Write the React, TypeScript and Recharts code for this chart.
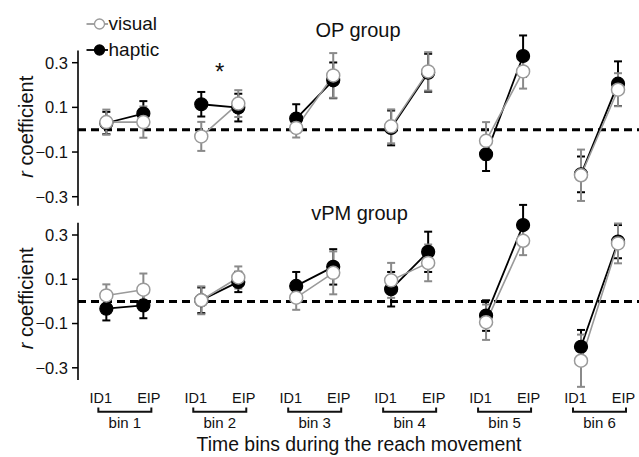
import React from 'react';
import { LineChart, Line, XAxis, YAxis, ErrorBar, ReferenceLine, ReferenceDot, Legend } from 'recharts';

// ---------- data ----------
const bins = ['bin 1', 'bin 2', 'bin 3', 'bin 4', 'bin 5', 'bin 6'];
const phases = ['ID1', 'EIP'];
const yTicks = [-0.3, -0.1, 0.1, 0.3];

// OP group (ID1, EIP per bin)
const opVisual = [0.034, 0.034, -0.03, 0.117, 0.008, 0.243, 0.015, 0.261, -0.05, 0.261, -0.204, 0.179];
const opVisualErr = [0.056, 0.07, 0.065, 0.06, 0.043, 0.1, 0.076, 0.086, 0.084, 0.077, 0.115, 0.074];
const opHaptic = [0.03, 0.072, 0.114, 0.099, 0.05, 0.221, 0.008, 0.255, -0.11, 0.33, -0.2, 0.206];
const opHapticErr = [0.05, 0.056, 0.055, 0.062, 0.064, 0.08, 0.078, 0.085, 0.075, 0.092, 0.08, 0.1];

// vPM group
const vpmVisual = [0.027, 0.053, 0.005, 0.108, 0.017, 0.129, 0.095, 0.174, -0.094, 0.274, -0.268, 0.262];
const vpmVisualErr = [0.05, 0.073, 0.063, 0.05, 0.055, 0.097, 0.079, 0.083, 0.08, 0.065, 0.118, 0.09];
const vpmHaptic = [-0.033, -0.018, 0.005, 0.088, 0.07, 0.156, 0.055, 0.224, -0.064, 0.345, -0.205, 0.27];
const vpmHapticErr = [0.053, 0.058, 0.058, 0.046, 0.063, 0.08, 0.078, 0.091, 0.069, 0.091, 0.076, 0.075];

const seriesOrder = ['visual', 'haptic'];
const significantBin = 2;
const significantY = 0.26;

// ---------- layout / style ----------
const FONT = '"Liberation Sans", Arial, sans-serif';
const PAIR_HALF = 0.195;
const X_MIN = 0.5065;
const X_MAX = 6.416;
const Y_DOMAIN: [number, number] = [-0.45, 0.45];
const OP_AXIS_RANGE = [-0.34, 0.355];
const VPM_AXIS_RANGE = [-0.355, 0.355];
const VIS_COLOR = '#9a9a9a';
const VIS_ERR = '#8a8a8a';

const Y_AXIS_W = 78;
const TOP_H = 250;
const TOP_MARGIN = { top: 29.2, right: 0, bottom: 19.8, left: 0 };
const BOT_TOP = 190;
const BOT_H = 267;
const BOT_MARGIN = { top: 11.8, right: 0, bottom: 0, left: 0 };
const X_AXIS_H = 56;

function buildRows(vis: number[], visErr: number[], hap: number[], hapErr: number[]) {
  const rows: any[] = [];
  bins.forEach((b, i) => {
    phases.forEach((p, j) => {
      const k = i * 2 + j;
      rows.push({
        x: i + 1 + (j === 0 ? -PAIR_HALF : PAIR_HALF),
        visual: vis[k],
        visualErr: visErr[k],
        haptic: hap[k],
        hapticErr: hapErr[k],
      });
    });
    if (i < bins.length - 1) {
      rows.push({ x: i + 1.5, visual: null, visualErr: null, haptic: null, hapticErr: null });
    }
  });
  return rows;
}

const opRows = buildRows(opVisual, opVisualErr, opHaptic, opHapticErr);
const vpmRows = buildRows(vpmVisual, vpmVisualErr, vpmHaptic, vpmHapticErr);

const fmt = (v: number) => (v < 0 ? `\u2212${Math.abs(v)}` : `${v}`);

// maps a value to page y for a panel, from the same domain/margins the chart uses
function valueToY(v: number, top: number, plotH: number) {
  return top + ((Y_DOMAIN[1] - v) / (Y_DOMAIN[1] - Y_DOMAIN[0])) * plotH;
}

const YLabel = (props: any) => {
  const vb = props.viewBox || {};
  const cy = vb.y + vb.height / 2 - 3;
  const x = 33;
  return (
    <text x={x} y={cy} transform={`rotate(-90 ${x} ${cy})`} textAnchor="middle" fontSize={20} fontFamily={FONT} fill="#111">
      <tspan fontStyle="italic">r</tspan> coefficient
    </text>
  );
};

const BinTick = (props: any) => {
  const { x, y, payload } = props;
  const i = Math.round(payload.value) - 1;
  return (
    <g fontFamily={FONT} fill="#111">
      <text x={x - 24} y={y + 2.3} textAnchor="middle" fontSize={14.5}>{phases[0]}</text>
      <text x={x + 24} y={y + 2.3} textAnchor="middle" fontSize={14.5}>{phases[1]}</text>
      <path d={`M${x - 26.5},${y + 6.5} L${x - 26.5},${y + 10.7} L${x + 26.5},${y + 10.7} L${x + 26.5},${y + 6.5}`} fill="none" stroke="#111" strokeWidth={2} />
      <text x={x} y={y + 27.3} textAnchor="middle" fontSize={15}>{bins[i]}</text>
    </g>
  );
};

const LegendContent = (props: any) => {
  const payload = (props.payload || [])
    .filter((e: any) => seriesOrder.includes(e.value))
    .sort((a: any, b: any) => seriesOrder.indexOf(a.value) - seriesOrder.indexOf(b.value));
  return (
    <svg width={140} height={56} style={{ display: 'block', overflow: 'visible' }}>
      {payload.map((e: any, i: number) => {
        const cy = 14 + i * 26;
        const isVis = e.value === 'visual';
        return (
          <g key={e.value}>
            <line x1={6.5} x2={28} y1={cy} y2={cy} stroke={isVis ? VIS_COLOR : '#000'} strokeWidth={1.8} />
            <circle cx={19.5} cy={cy} r={5} fill={isVis ? '#fff' : '#000'} stroke={isVis ? VIS_COLOR : '#000'} strokeWidth={1.3} />
            <text x={28.5} y={cy + 5.5} fontSize={19} fontFamily={FONT} fill="#111">{e.value}</text>
          </g>
        );
      })}
    </svg>
  );
};

function renderSeries() {
  return [
    <ReferenceLine key="zero" y={0} stroke="#000" strokeWidth={3} strokeDasharray="8 5" />,
    <Line
      key="haptic"
      dataKey="haptic"
      name="haptic"
      stroke="#000"
      strokeWidth={1.8}
      isAnimationActive={false}
      dot={{ r: 6.5, fill: '#000', stroke: '#000', strokeWidth: 1.2 }}
      activeDot={false}
      legendType="circle"
    >
      <ErrorBar dataKey="hapticErr" width={4} strokeWidth={2} stroke="#000" direction="y" isAnimationActive={false} />
    </Line>,
    <Line
      key="visual"
      dataKey="visual"
      name="visual"
      stroke={VIS_COLOR}
      strokeWidth={1.6}
      isAnimationActive={false}
      dot={{ r: 6.5, fill: '#fff', stroke: VIS_COLOR, strokeWidth: 1.5 }}
      activeDot={false}
      legendType="circle"
    >
      <ErrorBar dataKey="visualErr" width={4} strokeWidth={2} stroke={VIS_ERR} direction="y" isAnimationActive={false} />
    </Line>,
  ];
}

function axes(withXAxis: boolean) {
  return [
    <XAxis
      key="x"
      type="number"
      dataKey="x"
      domain={[X_MIN, X_MAX]}
      ticks={[1, 2, 3, 4, 5, 6]}
      hide={!withXAxis}
      axisLine={false}
      tickLine={false}
      tickSize={0}
      tickMargin={0}
      height={withXAxis ? X_AXIS_H : 0}
      tick={<BinTick />}
      interval={0}
    />,
    <YAxis
      key="y"
      type="number"
      domain={Y_DOMAIN}
      ticks={yTicks}
      width={Y_AXIS_W}
      axisLine={false}
      tickLine={{ stroke: '#000', strokeWidth: 1.5 }}
      tickSize={6}
      tickMargin={4}
      tickFormatter={fmt}
      tick={{ fontSize: 16.5, fill: '#111', fontFamily: FONT }}
      label={<YLabel />}
    />,
  ];
}

export default function App() {
  const topPlotH = TOP_H - TOP_MARGIN.top - TOP_MARGIN.bottom;
  const botPlotH = BOT_H - BOT_MARGIN.top - BOT_MARGIN.bottom - X_AXIS_H;
  const topPlotTop = TOP_MARGIN.top;
  const botPlotTop = BOT_TOP + BOT_MARGIN.top;
  const axisX = TOP_MARGIN.left + Y_AXIS_W;
  return (
    <div style={{ position: 'absolute', left: 0, top: 0, width: 639, height: 457, background: '#fff', fontFamily: FONT }}>
      <div style={{ position: 'absolute', left: 0, top: 0 }}>
        <LineChart width={639} height={TOP_H} data={opRows} margin={TOP_MARGIN}>
          {axes(false)}
          {renderSeries()}
          <ReferenceDot
            x={significantBin}
            y={significantY}
            r={0}
            fill="none"
            stroke="none"
            ifOverflow="visible"
            label={{ value: '*', position: 'center', fontSize: 24, fill: '#111', fontFamily: FONT }}
          />
          <Legend
            content={<LegendContent />}
            layout="horizontal"
            verticalAlign="middle"
            align="center"
            wrapperStyle={{ left: 80, top: 10, width: 140, height: 56 }}
          />
        </LineChart>
      </div>
      <div style={{ position: 'absolute', left: 0, top: BOT_TOP }}>
        <LineChart width={639} height={BOT_H} data={vpmRows} margin={BOT_MARGIN}>
          {axes(true)}
          {renderSeries()}
        </LineChart>
      </div>
      <svg width={639} height={457} style={{ position: 'absolute', left: 0, top: 0, pointerEvents: 'none' }}>
        <line
          x1={axisX}
          x2={axisX}
          y1={valueToY(OP_AXIS_RANGE[1], topPlotTop, topPlotH)}
          y2={valueToY(OP_AXIS_RANGE[0], topPlotTop, topPlotH)}
          stroke="#000"
          strokeWidth={1.6}
        />
        <line
          x1={axisX}
          x2={axisX}
          y1={valueToY(VPM_AXIS_RANGE[1], botPlotTop, botPlotH)}
          y2={valueToY(VPM_AXIS_RANGE[0], botPlotTop, botPlotH)}
          stroke="#000"
          strokeWidth={1.6}
        />
        <text x={358} y={36.7} textAnchor="middle" fontSize={20} fontFamily={FONT} fill="#111">OP group</text>
        <text x={359.5} y={220} textAnchor="middle" fontSize={20} fontFamily={FONT} fill="#111">vPM group</text>
        <text x={359} y={451} textAnchor="middle" fontSize={19.4} fontFamily={FONT} fill="#111">Time bins during the reach movement</text>
      </svg>
    </div>
  );
}
